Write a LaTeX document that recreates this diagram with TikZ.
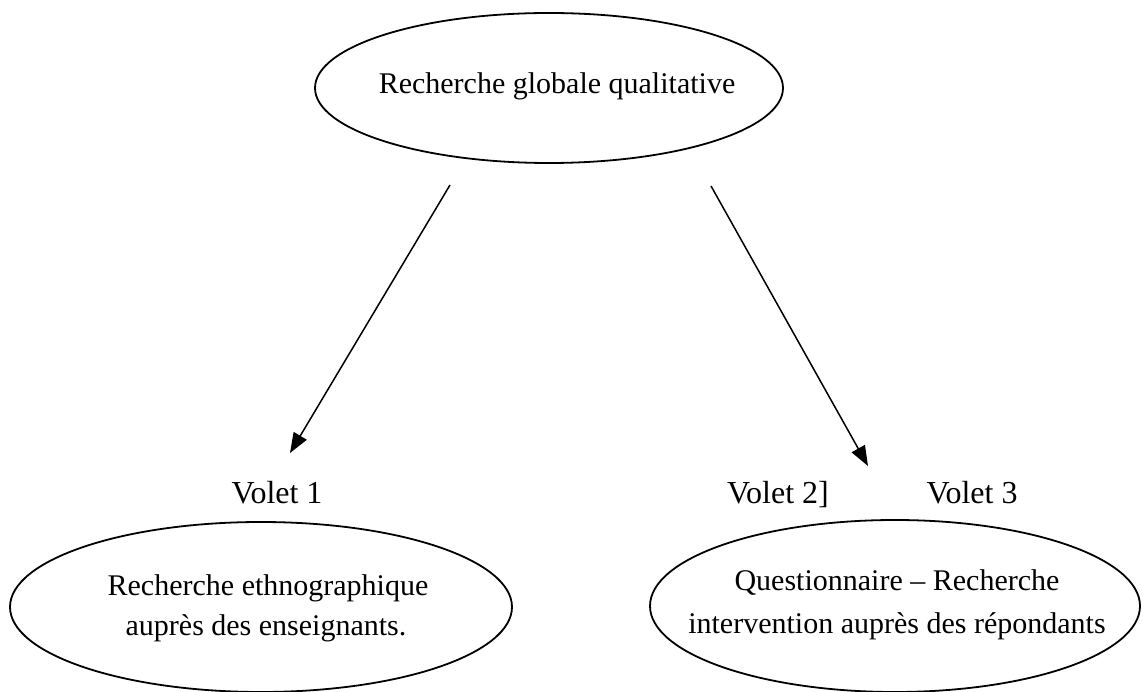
\documentclass[tikz,border=0pt]{standalone}
\usepackage{fontspec}
\setmainfont{Liberation Serif}
\usetikzlibrary{shapes.geometric,arrows.meta}
\tikzset{
  oval/.style={draw=black, line width=1.8pt, ellipse, inner sep=0pt},
  ovaltext/.style={font=\fontsize{30}{40}\selectfont, inner sep=0pt, anchor=base},
  vlabel/.style={font=\fontsize{32}{38}\selectfont, inner sep=0pt, anchor=base},
  arr/.style={line width=1.5pt, -{Triangle[length=20pt,width=15pt]}}
}
\begin{document}
\begin{tikzpicture}[x=1pt,y=-1pt]
\useasboundingbox (0,0) rectangle (1143,692);
% ellipses
\node[oval, minimum width=468pt, minimum height=150pt] (top) at (549,88) {};
\node[oval, minimum width=502pt, minimum height=170pt] (left) at (261,607) {};
\node[oval, minimum width=490pt, minimum height=172pt] (right) at (895,606) {};
% ellipse texts
\node[ovaltext] (toptxt) at (557,94) {Recherche globale qualitative};
\node[ovaltext] (lefttxt1) at (268,595) {Recherche ethnographique};
\node[ovaltext] (lefttxt2) at (266,635) {auprès des enseignants.};
\node[ovaltext] (righttxt1) at (897,590) {Questionnaire – Recherche};
\node[ovaltext] (righttxt2) at (897,633) {intervention auprès des répondants};
% labels
\node[vlabel] (v1) at (277,503) {Volet 1};
\node[vlabel] (v2) at (778,503) {Volet 2]};
\node[vlabel] (v3) at (972,503) {Volet 3};
% arrows
\coordinate (s1) at (450,185);
\coordinate (e1) at (290,453);
\coordinate (s2) at (711,186);
\coordinate (e2) at (868,466);
\draw[arr] (s1) -- (e1);
\draw[arr] (s2) -- (e2);
\end{tikzpicture}
\end{document}
